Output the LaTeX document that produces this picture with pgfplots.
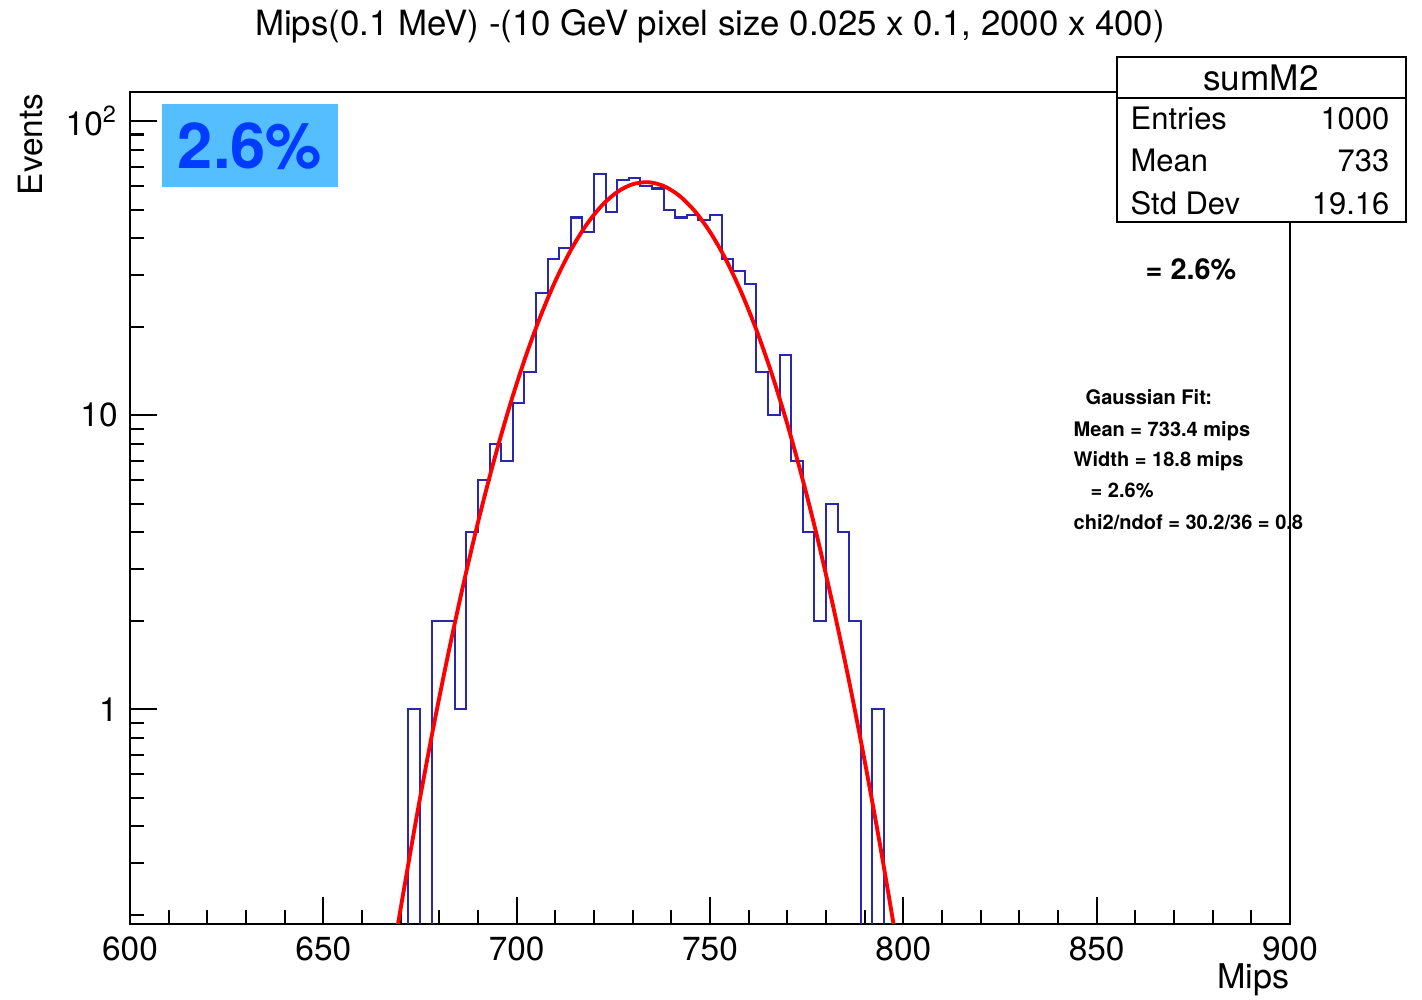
\documentclass[border=0pt]{standalone}
\usepackage{fontspec}
\setmainfont{TeX Gyre Heros}
\usepackage{pgfplots}
\usepackage{pgfplotstable}
\pgfplotsset{compat=1.18}

\definecolor{histblue}{RGB}{40,40,175}
\definecolor{boxfill}{RGB}{85,190,255}
\definecolor{boxtext}{RGB}{0,60,255}

% bin lower edge, entries (empty bins written as 0.01 so the log axis keeps them)
\pgfplotstableread{
x y
669 0.01
672 1
675 0.01
678 2
681 2
684 1
687 4
690 6
693 8
696 7
699 11
702 14
705 26
708 34
711 37
714 47
717 42
720 66
723 49
726 63
729 64
732 60
735 59
738 50
741 47
744 48
747 46
750 48
753 34
756 31
759 28
762 14
765 10
768 16
771 7
774 4
777 2
780 5
783 4
786 2
789 0.01
792 1
795 0.01
798 0.01
}\histdata

\begin{document}
\begin{tikzpicture}
\begin{axis}[
    name=ax, at={(0,0)}, anchor=south west,
    scale only axis, width=11.6cm, height=8.32cm,
    ymode=log,
    xmin=600, xmax=900, ymin=0.186, ymax=125.6,
    xtick={600,650,...,900}, minor x tick num=4,
    ytick={1,10,100}, yticklabels={1,10,10\textsuperscript{2}},
    minor ytick={0.2,0.3,0.4,0.5,0.6,0.7,0.8,0.9,2,3,4,5,6,7,8,9,20,30,40,50,60,70,80,90},
    tick pos=left, tick align=inside,
    major tick length=0.27cm, minor tick length=0.14cm,
    axis line style={line width=0.6pt},
    every tick/.style={black, line width=0.6pt},
    ticklabel style={font=\fontsize{9.5}{11}\selectfont},
    /pgf/number format/assume math mode=true,
    clip mode=individual,
]
\addplot[const plot mark left, histblue, line width=0.6pt] table {\histdata};
% Gaussian fit curve
\addplot[smooth, red, line width=1.1pt] coordinates {
(668,0.146) (670,0.210) (674,0.421) (678,0.807) (682,1.476) (686,2.58) (690,4.32)
(694,6.90) (698,10.53) (702,15.37) (706,21.43) (710,28.58) (714,36.40)
(718,44.32) (722,51.58) (726,57.38) (730,61.00) (734,61.97) (738,60.17)
(742,55.84) (746,49.53) (750,41.99) (754,34.02) (758,26.34) (762,19.49)
(766,13.79) (770,9.32) (774,6.02) (778,3.72) (782,2.19) (786,1.24)
(790,0.667) (794,0.344) (798,0.169)};
\end{axis}

% title and axis labels
\node[anchor=base, inner sep=0pt, font=\fontsize{9.9}{12}\selectfont] at (5.80,8.88)
  {Mips(0.1 MeV) -(10 GeV pixel size 0.025 x 0.1, 2000 x 400)};
\node[anchor=base east, inner sep=0pt, rotate=90, font=\fontsize{9.5}{11}\selectfont] at (-0.87,8.31) {Events};
\node[anchor=base east, inner sep=0pt, font=\fontsize{9.7}{11}\selectfont] at (11.60,-0.65) {Mips};

% blue label
\fill[boxfill] (0.32,7.37) rectangle (2.08,8.20);
\node[text=boxtext, font=\fontsize{18}{20}\selectfont\bfseries] at (1.20,7.78) {2.6\%};

% stats box
\draw[fill=white, line width=0.6pt] (9.87,7.02) rectangle (12.76,8.67);
\draw[line width=0.6pt] (9.87,8.26) -- (12.76,8.26);
\node[anchor=base, inner sep=0pt, font=\fontsize{10}{12}\selectfont] at (11.31,8.33) {sumM2};
\begin{scope}[every node/.style={inner sep=0pt, font=\fontsize{8.8}{10}\selectfont}]
\node[anchor=base west] at (10.00,7.94) {Entries};
\node[anchor=base east] at (12.60,7.94) {1000};
\node[anchor=base west] at (10.00,7.52) {Mean};
\node[anchor=base east] at (12.60,7.52) {733};
\node[anchor=base west] at (10.00,7.09) {Std Dev};
\node[anchor=base east] at (12.60,7.09) {19.16};
\end{scope}

\node[anchor=base west, inner sep=0pt, font=\fontsize{8.2}{10}\selectfont\bfseries] at (10.15,6.44) {= 2.6\%};

\begin{scope}[every node/.style={anchor=base west, inner sep=0pt, font=\fontsize{5.7}{7}\selectfont\bfseries}]
\node at (9.55,5.19) {Gaussian Fit:};
\node at (9.43,4.87) {Mean = 733.4 mips};
\node at (9.43,4.57) {Width = 18.8 mips};
\node at (9.60,4.26) {= 2.6\%};
\node at (9.43,3.94) {chi2/ndof = 30.2/36 = 0.8};
\end{scope}

\pgfresetboundingbox
\path[use as bounding box] (-1.30,-0.76) rectangle (12.92,9.24);
\end{tikzpicture}
\end{document}
